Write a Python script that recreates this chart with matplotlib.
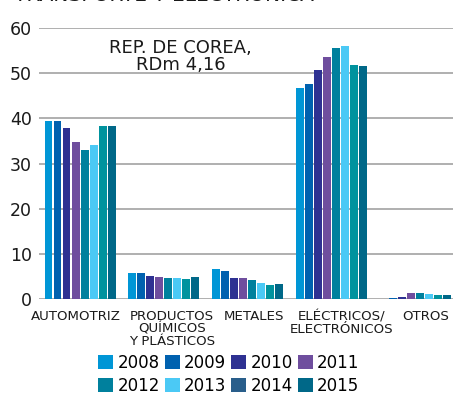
import matplotlib.pyplot as plt
import numpy as np
from matplotlib.patches import Patch

categories = ['AUTOMOTRIZ', 'PRODUCTOS\nQUÍMICOS\nY PLÁSTICOS', 'METALES',
              'ELÉCTRICOS/\nELECTRÓNICOS', 'OTROS']
years = ['2008', '2009', '2010', '2011', '2012', '2013', '2014', '2015']

v2008 = [39.3, 5.8, 6.7, 46.8, 0.0]
v2009 = [39.3, 5.8, 6.2, 47.5, 0.3]
v2010 = [37.8, 5.1, 4.6, 50.8, 0.5]
v2011 = [34.7, 4.9, 4.6, 53.5, 1.4]
v2012 = [33.1, 4.7, 4.2, 55.5, 1.3]
v2013 = [34.0, 4.7, 3.5, 55.9, 1.1]
v2014 = [38.2, 4.4, 3.0, 51.9, 0.9]
v2015 = [38.4, 4.9, 3.3, 51.5, 0.9]
series = [v2008, v2009, v2010, v2011, v2012, v2013, v2014, v2015]

bar_colors = ['#0096D6', '#0061AF', '#2E3192', '#6F4E9E',
              '#00809D', '#4BC9F5', '#00939E', '#006888']
legend_colors = ['#0096D6', '#0061AF', '#2E3192', '#6F4E9E',
                 '#00809D', '#4BC9F5', '#295E8B', '#006888']

plt.rcParams['font.family'] = 'DejaVu Sans'
fig = plt.figure(figsize=(4.53, 3.94), dpi=100)
ax = fig.add_axes([0.086, 0.241, 0.914, 0.688])

x = np.arange(len(categories))
slot = 0.1075
for i, vals in enumerate(series):
    ax.bar(x + (i - 3.5) * slot, vals, width=0.095, color=bar_colors[i], zorder=3)

ax.set_xlim(-0.49, 4.45)
ax.set_ylim(0, 60)
ax.set_yticks(range(0, 61, 10))
ax.yaxis.grid(True, color='#9a9a9a', linewidth=1.1, zorder=0)
ax.tick_params(axis='y', length=0, labelsize=12.5, pad=5, colors='#1a1a1a')
ax.tick_params(axis='x', length=0, labelsize=9.6, pad=8, colors='#1a1a1a')
# labels sit slightly off the group centres so neighbours don't collide
label_shift = [-0.05, 0.1, 0.08, 0.12, 0.12]
ax.set_xticks(x + np.array(label_shift))
ax.set_xticklabels(categories, linespacing=0.95)
for s in ax.spines.values():
    s.set_visible(False)

ax.text(1.2, 57.6, 'REP. DE COREA,\nRDm 4,16', ha='center', va='top',
        fontsize=13, linespacing=0.95, color='#1a1a1a')

fig.text(0.03, 0.998, 'TRANSPORTE Y ELECTRÓNICA', ha='left', va='baseline',
         fontsize=14.5, color='#1a1a1a')

# row-wise legend order for 4 columns x 2 rows
order = [0, 4, 1, 5, 2, 6, 3, 7]
handles = [Patch(facecolor=legend_colors[i]) for i in order]
labels = [years[i] for i in order]
fig.legend(handles, labels, loc='lower center', bbox_to_anchor=(0.505, -0.04),
           ncol=4, frameon=False, fontsize=12, handlelength=0.9,
           handleheight=0.9, handletextpad=0.25, columnspacing=0.3,
           labelspacing=0.3)

fig.savefig('out.png', dpi=100)
